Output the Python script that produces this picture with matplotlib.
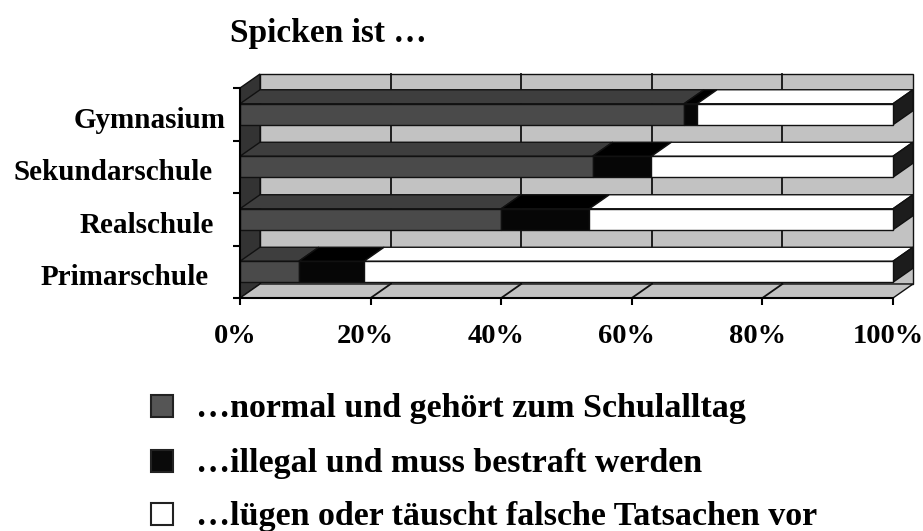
import matplotlib
matplotlib.use("Agg")
import matplotlib.pyplot as plt
from matplotlib.patches import Polygon, Rectangle
from matplotlib.transforms import ScaledTranslation

plt.rcParams["font.family"] = ["Liberation Serif", "DejaVu Serif"]
plt.rcParams["font.weight"] = "bold"

# Survey shares (percent), one list per answer, rows top to bottom
categories = ["Gymnasium", "Sekundarschule", "Realschule", "Primarschule"]
normal = [68, 54, 40, 9]
illegal = [2, 9, 13.5, 10]
luegen = [30, 37, 46.5, 81]
series_labels = [
    "\u2026normal und geh\u00f6rt zum Schulalltag",
    "\u2026illegal und muss bestraft werden",
    "\u2026l\u00fcgen oder t\u00e4uscht falsche Tatsachen vor",
]
title = "Spicken ist \u2026"
xticks = [0, 20, 40, 60, 80, 100]
xticklabels = [f"{v}%" for v in xticks]

# appearance
W, H, DPI = 923, 531, 100
wall = "#c2c2c2"
side_wall = "#333333"
front_cols = ["#4a4a4a", "#060606", "#ffffff"]
top_cols = ["#3e3e3e", "#000000", "#ffffff"]
end_side = "#1c1c1c"
edge = "#111111"

fig = plt.figure(figsize=(W / DPI, H / DPI), dpi=DPI)
fig.patch.set_facecolor("white")

ax_left, ax_right, ax_top, ax_bot = 240, 893, 88, 298
ax = fig.add_axes([ax_left / W, (H - ax_bot) / H,
                   (ax_right - ax_left) / W, (ax_bot - ax_top) / H])
n = len(categories)
ax.set_xlim(0, 100)
ax.set_ylim(0, n)
ax.patch.set_visible(False)

# oblique depth offset, in data units
px_x = (ax_right - ax_left) / 100.0
px_y = (ax_bot - ax_top) / n
DX = 20 / px_x
DY = 14 / px_y


def poly(pts, fc, z, lw=1.0, ec=edge):
    p = Polygon(pts, closed=True, facecolor=fc, edgecolor=ec, linewidth=lw,
                zorder=z, clip_on=False, joinstyle="miter")
    ax.add_patch(p)


# back wall with gridlines
poly([(DX, DY), (100 + DX, DY), (100 + DX, n + DY), (DX, n + DY)], wall, 1)
for v in xticks[1:-1]:
    ax.plot([v + DX, v + DX], [DY, n + DY], color=edge, lw=1.3, zorder=1.1,
            clip_on=False)
# left wall
poly([(0, 0), (DX, DY), (DX, n + DY), (0, n)], side_wall, 1.2)
# floor with gridlines
poly([(0, 0), (100, 0), (100 + DX, DY), (DX, DY)], wall, 1.3)
for v in xticks[1:-1]:
    ax.plot([v, v + DX], [0, DY], color=edge, lw=1.3, zorder=1.4,
            clip_on=False)

# stacked 3D bars
half = 0.2
for i, cat in enumerate(categories):
    yc = n - 1 - i + 0.5
    y0, y1 = yc - half, yc + half
    left = 0.0
    segs = [normal[i], illegal[i], luegen[i]]
    for k, w in enumerate(segs):
        x0, x1 = left, left + w
        poly([(x0, y1), (x1, y1), (x1 + DX, y1 + DY), (x0 + DX, y1 + DY)],
             top_cols[k], 2)
        poly([(x0, y0), (x1, y0), (x1, y1), (x0, y1)], front_cols[k], 2.1)
        left = x1
    poly([(left, y0), (left + DX, y0 + DY), (left + DX, y1 + DY), (left, y1)],
         end_side, 2)

# axes, ticks and labels
for s in ("top", "right"):
    ax.spines[s].set_visible(False)
for s in ("left", "bottom"):
    ax.spines[s].set_linewidth(1.5)
    ax.spines[s].set_zorder(3)

ax.set_xticks(xticks)
ax.set_xticklabels(xticklabels, fontsize=20.5, fontweight="bold")
ax.tick_params(axis="x", length=5, width=1.5, pad=14)
for lab in ax.get_xticklabels():
    lab.set_transform(lab.get_transform() + ScaledTranslation(-5 / DPI, 0, fig.dpi_scale_trans))

ax.set_yticks(range(n + 1))
ax.set_yticklabels([])
ax.tick_params(axis="y", which="major", length=5, width=1.5)
ax.set_yticks([n - 1 - i + 0.5 for i in range(n)], minor=True)
ax.set_yticklabels(categories, minor=True, fontsize=21, fontweight="bold")
ax.tick_params(axis="y", which="minor", length=0, pad=19.5)
label_shift_px = {"Gymnasium": 13, "Sekundarschule": 0, "Realschule": 1,
                  "Primarschule": -4}
for lab in ax.get_yticklabels(minor=True):
    dx = label_shift_px.get(lab.get_text(), 0)
    lab.set_transform(lab.get_transform() + ScaledTranslation(dx / DPI, -3 / DPI, fig.dpi_scale_trans))

# title
fig.text(230 / W, 1 - 42 / H, title, fontsize=24, fontweight="bold",
         ha="left", va="baseline")

# legend drawn as marker squares + text
leg_rows = [406, 461, 514]
legend_face = ["#555555", "#0a0a0a", "#ffffff"]
sq = 22
for k, (lab, yc) in enumerate(zip(series_labels, leg_rows)):
    fig.add_artist(Rectangle((151 / W, 1 - (yc + sq / 2) / H), sq / W, sq / H,
                             transform=fig.transFigure, facecolor=legend_face[k],
                             edgecolor="#222222", linewidth=1.5))
    fig.text(196 / W, 1 - (yc + 11) / H, lab, fontsize=24.5, fontweight="bold",
             ha="left", va="baseline")

fig.savefig("out.png", dpi=DPI, facecolor="white")
